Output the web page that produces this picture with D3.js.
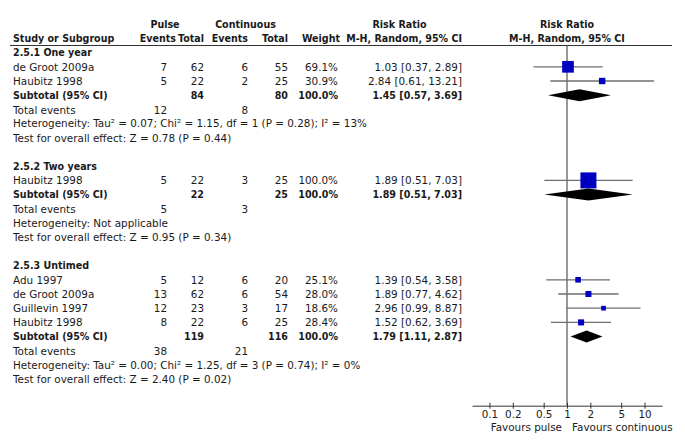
<!DOCTYPE html>
<html>
<head>
<meta charset="utf-8">
<script src="https://cdn.jsdelivr.net/npm/d3@7"></script>
<style>
  body { margin: 0; background: #fff; }
  svg text { font-family: "DejaVu Sans", sans-serif; fill: #1a1a1a; }
  svg text.b { font-family: "DejaVu Sans Condensed", "DejaVu Sans", sans-serif; font-weight: bold; }
</style>
</head>
<body>
<svg id="chart" width="685" height="444"></svg>
<script>
// ---------- data ----------
const groupTitles = ["2.5.1 One year", "2.5.2 Two years", "2.5.3 Untimed"];

const studyNames   = ["de Groot 2009a", "Haubitz 1998", "Haubitz 1998", "Adu 1997", "de Groot 2009a", "Guillevin 1997", "Haubitz 1998"];
const studyGroup   = [0, 0, 1, 2, 2, 2, 2];
const pulseEvents  = [7, 5, 5, 5, 13, 12, 8];
const pulseTotal   = [62, 22, 22, 12, 62, 23, 22];
const contEvents   = [6, 2, 3, 6, 6, 3, 6];
const contTotal    = [55, 25, 25, 20, 54, 17, 25];
const studyWeight  = [69.1, 30.9, 100.0, 25.1, 28.0, 18.6, 28.4];
const studyRR      = [1.03, 2.84, 1.89, 1.39, 1.89, 2.96, 1.52];
const studyLo      = [0.37, 0.61, 0.51, 0.54, 0.77, 0.99, 0.62];
const studyHi      = [2.89, 13.21, 7.03, 3.58, 4.62, 8.87, 3.69];

const subPulseTotal = [84, 22, 119];
const subContTotal  = [80, 25, 116];
const subWeight     = [100.0, 100.0, 100.0];
const subRR         = [1.45, 1.89, 1.79];
const subLo         = [0.57, 0.51, 1.11];
const subHi         = [3.69, 7.03, 2.87];
const totEvPulse    = [12, 5, 38];
const totEvCont     = [8, 3, 21];
const heterogeneity = [
  "Heterogeneity: Tau\u00B2 = 0.07; Chi\u00B2 = 1.15, df = 1 (P = 0.28); I\u00B2 = 13%",
  "Heterogeneity: Not applicable",
  "Heterogeneity: Tau\u00B2 = 0.00; Chi\u00B2 = 1.25, df = 3 (P = 0.74); I\u00B2 = 0%"
];
const overallEffect = [
  "Test for overall effect: Z = 0.78 (P = 0.44)",
  "Test for overall effect: Z = 0.95 (P = 0.34)",
  "Test for overall effect: Z = 2.40 (P = 0.02)"
];
const tickValues = [0.1, 0.2, 0.5, 1, 2, 5, 10];
const favourLeft = "Favours pulse";
const favourRight = "Favours continuous";

// ---------- layout ----------
const svg = d3.select("#chart");
const FS = 10.4;
const FSB = 10.6;
const fmt2 = d3.format(".2f");
const fmtW = d3.format(".1f");

const rowY = d3.scaleLinear().domain([0, 1]).range([52.6, 66.8]);
const x = d3.scaleLog().domain([1 / 16.8, 16.8]).range([472, 662]);
const sizeScale = d3.scaleLinear().domain([0, 100]).range([2.1, 16]);

const col = { name: 13, pEv: 167, pTot: 204, cEv: 248, cTot: 288, weight: 338, rr: 462 };

function txt(xp, yp, s, anchor, bold) {
  svg.append("text")
    .attr("class", bold ? "b" : null)
    .attr("x", xp).attr("y", yp).attr("dy", "0.36em")
    .attr("text-anchor", anchor || "start")
    .attr("font-size", bold ? FSB : FS)
    .text(s);
}

// headers
const h1 = rowY(-2), h2 = rowY(-1);
txt(165, h1, "Pulse", "middle", true);
txt(245.5, h1, "Continuous", "middle", true);
txt(399.5, h1, "Risk Ratio", "middle", true);
txt(x(1), h1, "Risk Ratio", "middle", true);
txt(col.name, h2, "Study or Subgroup", "start", true);
txt(176, h2, "Events", "end", true);
txt(col.pTot, h2, "Total", "end", true);
txt(col.cEv, h2, "Events", "end", true);
txt(col.cTot, h2, "Total", "end", true);
txt(340, h2, "Weight", "end", true);
txt(col.rr, h2, "M-H, Random, 95% CI", "end", true);
txt(x(1), h2, "M-H, Random, 95% CI", "middle", true);

svg.append("line").attr("x1", 10).attr("x2", 672).attr("y1", 45.5).attr("y2", 45.5)
  .attr("stroke", "#333").attr("stroke-width", 1);

// vertical line of no effect
const axisY = 405.7;
svg.append("line").attr("x1", x(1)).attr("x2", x(1)).attr("y1", 45.5).attr("y2", axisY)
  .attr("stroke", "#333").attr("stroke-width", 1);

// rows
let r = 0;
groupTitles.forEach((g, gi) => {
  txt(col.name, rowY(r), g, "start", true);
  r++;
  studyNames.forEach((s, i) => {
    if (studyGroup[i] !== gi) return;
    const y = rowY(r);
    txt(col.name, y, s);
    txt(col.pEv, y, pulseEvents[i], "end");
    txt(col.pTot, y, pulseTotal[i], "end");
    txt(col.cEv, y, contEvents[i], "end");
    txt(col.cTot, y, contTotal[i], "end");
    txt(col.weight, y, fmtW(studyWeight[i]) + "%", "end");
    txt(col.rr, y, `${fmt2(studyRR[i])} [${fmt2(studyLo[i])}, ${fmt2(studyHi[i])}]`, "end");
    // CI line
    svg.append("line")
      .attr("x1", x(studyLo[i])).attr("x2", x(Math.min(studyHi[i], x.domain()[1])))
      .attr("y1", y).attr("y2", y)
      .attr("stroke", "#6e6e6e").attr("stroke-width", 1.3);
    const sz = sizeScale(studyWeight[i]);
    svg.append("rect")
      .attr("x", x(studyRR[i]) - sz / 2).attr("y", y - sz / 2)
      .attr("width", sz).attr("height", sz)
      .attr("fill", "#0000c0");
    r++;
  });
  // subtotal
  const ys = rowY(r);
  txt(col.name, ys, "Subtotal (95% CI)", "start", true);
  txt(col.pTot, ys, subPulseTotal[gi], "end", true);
  txt(col.cTot, ys, subContTotal[gi], "end", true);
  txt(col.weight, ys, fmtW(subWeight[gi]) + "%", "end", true);
  txt(col.rr, ys, `${fmt2(subRR[gi])} [${fmt2(subLo[gi])}, ${fmt2(subHi[gi])}]`, "end", true);
  const hh = 6;
  svg.append("path")
    .attr("d", `M${x(subLo[gi])},${ys} L${x(subRR[gi])},${ys - hh} L${x(subHi[gi])},${ys} L${x(subRR[gi])},${ys + hh} Z`)
    .attr("fill", "#000");
  r++;
  const yt = rowY(r) + 0.6;
  txt(col.name, yt, "Total events");
  txt(col.pEv, yt, totEvPulse[gi], "end");
  txt(col.cEv, yt, totEvCont[gi], "end");
  r++;
  txt(col.name, rowY(r), heterogeneity[gi]);
  r++;
  txt(col.name, rowY(r), overallEffect[gi]);
  r += 2;
});

// axis
const axis = d3.axisBottom(x).tickValues(tickValues).tickSize(3).tickSizeOuter(0)
  .tickFormat(d3.format("~g"));
const ag = svg.append("g").attr("transform", `translate(0,${axisY})`).call(axis);
ag.select(".domain").attr("stroke", "#333");
ag.selectAll(".tick line").attr("y1", -3).attr("y2", 3).attr("stroke", "#333");
ag.selectAll(".tick text").attr("y", 5).attr("dy", "0.71em")
  .attr("font-size", FS).attr("font-family", "DejaVu Sans, sans-serif").attr("fill", "#1a1a1a");

txt(562, 427, favourLeft, "end");
txt(572, 427, favourRight, "start");
</script>
</body>
</html>
